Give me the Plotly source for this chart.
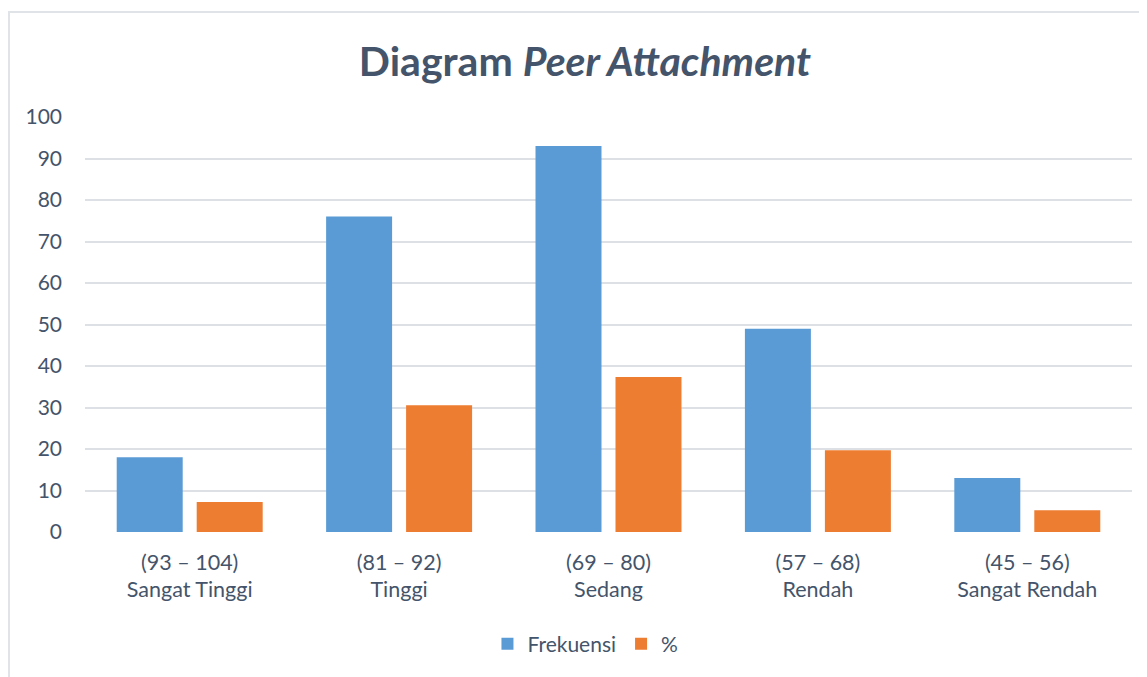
import plotly.graph_objects as go

categories = ["(93 – 104)<br>Sangat Tinggi", "(81 – 92)<br>Tinggi", "(69 – 80)<br>Sedang",
              "(57 – 68)<br>Rendah", "(45 – 56)<br>Sangat Rendah"]
frekuensi = [18, 76, 93, 49, 13]
persen = [7.23, 30.52, 37.35, 19.68, 5.22]
y_ticks = list(range(0, 101, 10))

TEXT = "#44546a"
FONT = "Lato"

fig = go.Figure()
fig.add_trace(go.Bar(x=categories, y=frekuensi, name="Frekuensi",
                     marker=dict(color="#5b9bd5", line=dict(width=0))))
fig.add_trace(go.Bar(x=categories, y=persen, name="%",
                     marker=dict(color="#ed7d31", line=dict(width=0))))

fig.update_layout(
    width=1147, height=677,
    margin=dict(l=77, r=23, t=109, b=153),
    paper_bgcolor="white", plot_bgcolor="white",
    barmode="group", bargap=0.236, bargroupgap=0.175,
    font=dict(family=FONT, color=TEXT, size=21),
    title=dict(text="<b>Diagram <i>Peer Attachment</i></b>", x=0.503, xanchor="center",
               y=0.921, yanchor="middle", font=dict(family=FONT, size=41, color=TEXT)),
    showlegend=True,
    legend=dict(orientation="h", x=0.478, xanchor="center", y=-0.27, yanchor="middle",
                font=dict(size=21, color=TEXT), itemwidth=30, traceorder="normal"),
    shapes=[dict(type="rect", xref="paper", yref="paper", x0=-0.0726, x1=1.2,
                 y0=-0.5, y1=1.253, line=dict(color="#e0e3e8", width=2), layer="below")],
)
fig.update_xaxes(showgrid=False, showline=False, ticks="", tickfont=dict(size=21.5, color=TEXT),
                 ticklabelstandoff=15)
fig.update_yaxes(range=[0, 100], tickvals=y_ticks, showgrid=True, gridcolor="#dde1e6",
                 gridwidth=2, zeroline=False, showline=False, ticks="",
                 tickfont=dict(size=21, color=TEXT), ticklabelstandoff=22)

fig.write_html("out.html")
